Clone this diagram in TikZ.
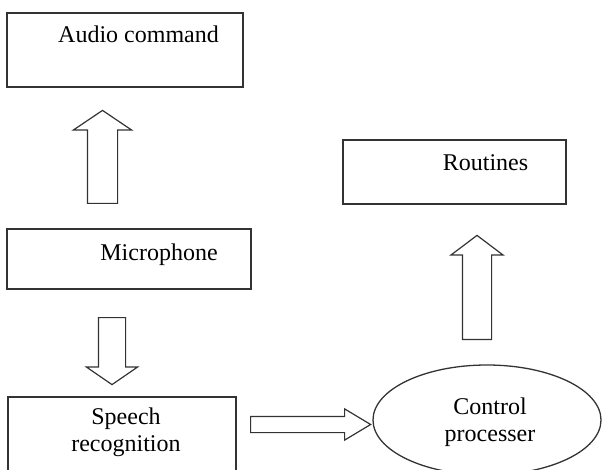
\documentclass[tikz,border=0pt]{standalone}
\usepackage{fontspec}
\setmainfont{Liberation Serif}
\usepackage{tikz}
\usetikzlibrary{shapes.geometric}
\usetikzlibrary{shapes.arrows}

\tikzset{
	box/.style = {draw=black!80, line width=1.3pt, rectangle, inner sep=0pt},
	txt/.style = {font=\fontsize{24}{27}\selectfont, inner sep=0pt},
	blockarrow/.style = {draw=black!80, line width=1.2pt, single arrow, inner xsep=0pt, anchor=tail}
}

\begin{document}
\begin{tikzpicture}[x=1pt, y=-1pt]
	\useasboundingbox (0,0) rectangle (602,470);
	\clip (0,0) rectangle (602,470);
	
	% draw boxes
	\node [box, minimum width=236pt, minimum height=74pt] (audio) at (125,50) {};
	\node [box, minimum width=244pt, minimum height=60pt] (mic) at (129,259) {};
	\node [box, minimum width=228pt, minimum height=110pt] (speech) at (122,452) {};
	\node [box, minimum width=223pt, minimum height=64pt] (routines) at (454.5,172) {};
	\node [draw=black!80, line width=1.3pt, ellipse, minimum width=228pt, minimum height=110pt] (ctrl) at (487,420) {};
	
	% write labels
	\node [txt, anchor=base] (audiotxt) at (138.5,43) {Audio command};
	\node [txt, anchor=base] (mictxt) at (159,261) {Microphone};
	\node [txt, align=center] (speechtxt) at (126,432) {Speech\\recognition};
	\node [txt, align=center] (ctrltxt) at (490,422) {Control\\processer};
	\node [txt, anchor=base] (routinestxt) at (485.5,171) {Routines};
	
	% draw block arrows
	\node [blockarrow, rotate=90, minimum height=93pt, inner ysep=14.5pt, single arrow head extend=14pt, single arrow tip angle=112] (up1) at (102.5,204) {};
	\node [blockarrow, rotate=-90, minimum height=67pt, inner ysep=13pt, single arrow head extend=12pt, single arrow tip angle=111] (down1) at (112,317) {};
	\node [blockarrow, minimum height=120pt, inner ysep=7.5pt, single arrow head extend=7.5pt, single arrow tip angle=62] (right1) at (250,424.5) {};
	\node [blockarrow, rotate=90, minimum height=104pt, inner ysep=14pt, single arrow head extend=11.5pt, single arrow tip angle=106] (up2) at (477,340) {};
\end{tikzpicture}
\end{document}
